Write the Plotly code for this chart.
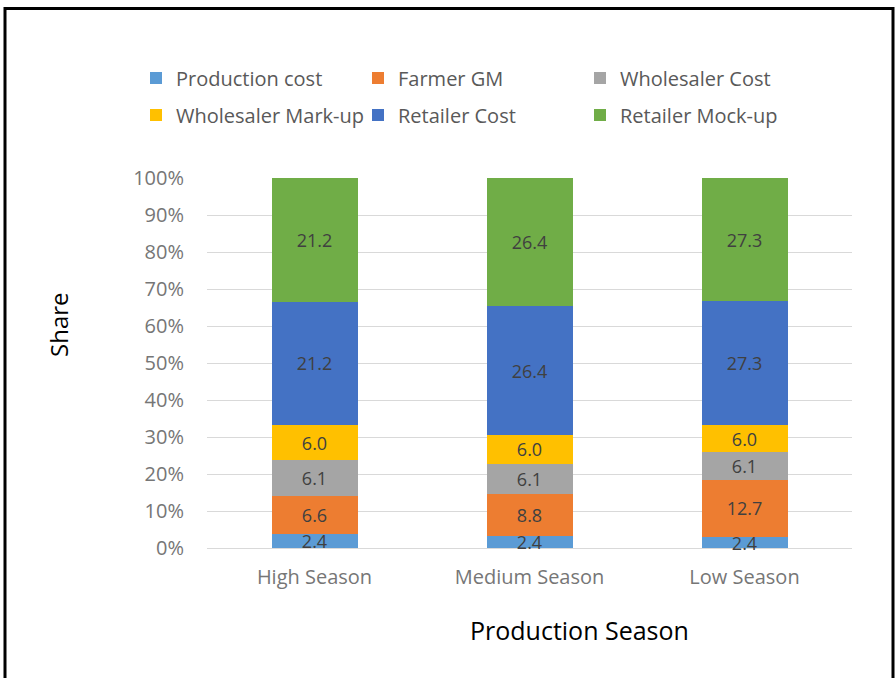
import plotly.graph_objects as go

# Cost build-up per production season (values shown on each segment)
seasons = ["High Season", "Medium Season", "Low Season"]
production_cost = [2.4, 2.4, 2.4]
farmer_gm = [6.6, 8.8, 12.7]
wholesaler_cost = [6.1, 6.1, 6.1]
wholesaler_markup = [6.0, 6.0, 6.0]
retailer_cost = [21.2, 26.4, 27.3]
retailer_mockup = [21.2, 26.4, 27.3]

series = [
    ("Production cost", production_cost, "#5B9BD5", "legend"),
    ("Farmer GM", farmer_gm, "#ED7D31", "legend"),
    ("Wholesaler Cost", wholesaler_cost, "#A5A5A5", "legend"),
    ("Wholesaler Mark-up", wholesaler_markup, "#FFC000", "legend2"),
    ("Retailer Cost", retailer_cost, "#4472C4", "legend2"),
    ("Retailer Mock-up", retailer_mockup, "#70AD47", "legend2"),
]

FONT = "Open Sans"

fig = go.Figure()
for name, vals, color, leg in series:
    fig.add_trace(go.Bar(
        x=seasons, y=vals, name=name, legend=leg,
        marker=dict(color=color, line=dict(width=0)),
        text=[f"{v:.1f}" for v in vals],
        textposition="inside", insidetextanchor="middle",
        constraintext="none", cliponaxis=False,
        textfont=dict(family=FONT, size=18, color="#404040"),
        hoverinfo="skip",
    ))

W, H = 896, 678
L, R, T, B = 207, 44, 178, 130
pw, ph = W - L - R, H - T - B

def px_x(x):
    return (x - L) / pw

def px_y(y):
    return 1 - (y - T) / ph

legend_common = dict(
    orientation="h", xanchor="left", yanchor="middle",
    font=dict(family=FONT, size=20, color="#595959"),
    entrywidth=177, bgcolor="rgba(0,0,0,0)", traceorder="normal",
)

fig.update_layout(
    width=W, height=H,
    margin=dict(l=L, r=R, t=T, b=B),
    paper_bgcolor="white", plot_bgcolor="white",
    barmode="stack", barnorm="percent", bargap=0.6,
    font=dict(family=FONT, color="#767676"),
    legend=dict(x=px_x(136), y=px_y(78), **legend_common),
    legend2=dict(x=px_x(136), y=px_y(115), **legend_common),
    xaxis=dict(
        showgrid=False, showline=False, ticks="",
        tickfont=dict(family=FONT, size=20, color="#767676"),
        ticklabelstandoff=15,
    ),
    yaxis=dict(
        range=[0, 100], dtick=10, ticksuffix="%",
        showgrid=True, gridcolor="#D9D9D9", gridwidth=1,
        zeroline=True, zerolinecolor="#D9D9D9", zerolinewidth=1,
        showline=False, ticks="",
        tickfont=dict(family=FONT, size=20, color="#767676"),
        ticklabelstandoff=22,
    ),
    annotations=[
        dict(text="Share", textangle=-90, xref="paper", yref="paper",
             x=px_x(58), y=px_y(325), xanchor="center", yanchor="middle",
             showarrow=False,
             font=dict(family=FONT, size=24, color="black")),
        dict(text="Production Season", xref="paper", yref="paper",
             x=px_x(579), y=px_y(630), xanchor="center", yanchor="middle",
             showarrow=False,
             font=dict(family=FONT, size=25, color="black")),
    ],
    shapes=[
        dict(type="rect", xref="paper", yref="paper",
             x0=px_x(5), x1=px_x(893), y0=px_y(720), y1=px_y(8.5),
             line=dict(color="black", width=3), fillcolor="rgba(0,0,0,0)",
             layer="above"),
    ],
)

fig.write_html("out.html")
